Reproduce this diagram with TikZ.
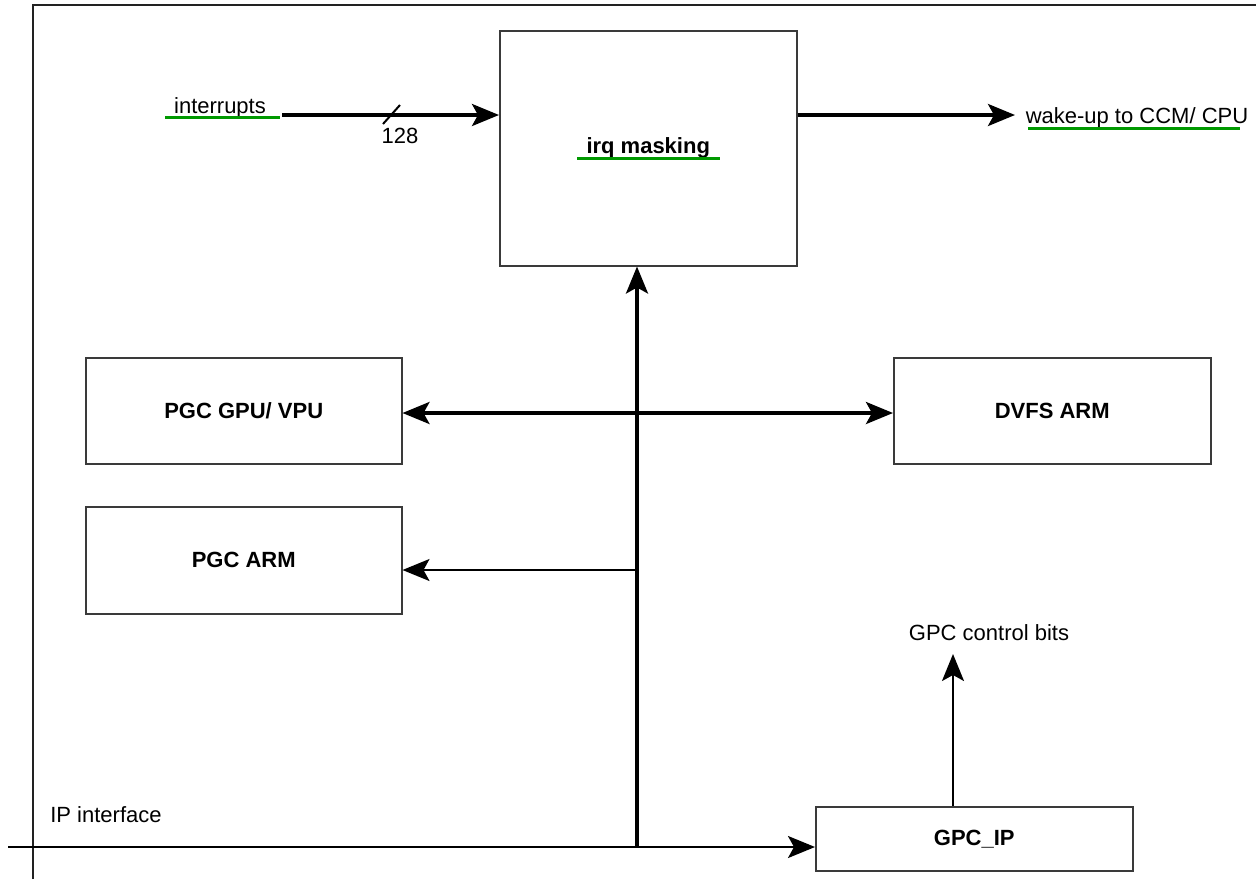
\documentclass[tikz,border=0pt]{standalone}
\usepackage{fontspec}
\setmainfont{Liberation Sans}
\usetikzlibrary{arrows.meta}
\definecolor{ulgreen}{HTML}{009900}
\definecolor{boxc}{HTML}{3A3A3A}
\definecolor{framec}{HTML}{222222}
\begin{document}
\begin{tikzpicture}[x=1pt,y=-1pt,
  font=\fontsize{22}{26}\selectfont,
  blk/.style={draw=boxc, line width=1.5pt, anchor=north west, inner sep=0pt,
              font=\fontsize{22}{26}\selectfont\bfseries},
  lbl/.style={anchor=base, inner sep=0pt},
  thk/.style={line width=3.5pt},
  thn/.style={line width=2pt},
  arr/.style={-{Stealth[length=27pt,width=22pt,inset=6pt]}},
  darr/.style={{Stealth[length=27pt,width=22pt,inset=6pt]}-{Stealth[length=27pt,width=22pt,inset=6pt]}},
  uline/.style={draw=ulgreen, line width=3pt}
]
\useasboundingbox (0,0) rectangle (1256,879);
\fill[white] (0,0) rectangle (1256,879);

% frame
\draw[framec, line width=2pt] (33,879) -- (33,5) -- (1256,5);

% boxes
\node[blk, minimum width=297pt, minimum height=235pt] (irq) at (499,30) {irq masking};
\node[blk, minimum width=316pt, minimum height=106pt] (gpu) at (85,357) {PGC GPU/ VPU};
\node[blk, minimum width=316pt, minimum height=107pt] (arm) at (85,506) {PGC ARM};
\node[blk, minimum width=317pt, minimum height=106pt] (dvfs) at (893,357) {DVFS ARM};
\node[blk, minimum width=317pt, minimum height=64pt] (gpcip) at (815,806) {GPC\_IP};

% labels
\node[lbl] (intr) at (220,113) {interrupts};
\node[lbl] (n128) at (400,143) {128};
\node[lbl] (wake) at (1137,123) {wake-up to CCM/ CPU};
\node[lbl] (gpcbits) at (989,640) {GPC control bits};
\node[lbl] (ipif) at (106,822) {IP interface};

% green underlines
\draw[uline] (165,117) -- (280,117);
\draw[uline] (577,158) -- (720,158);
\draw[uline] (1028,128) -- (1240,128);

% connectors
\coordinate (inS) at (282,115);
\draw[thk,arr] (inS) -- (inS -| irq.west);
\draw[line width=2pt] (383,124) -- (400,105);

\coordinate (wkE) at (1015,115);
\draw[thk,arr] (wkE -| irq.east) -- (wkE);

\coordinate (busB) at (637,847);
\draw[thk,arr] (busB) -- (busB |- irq.south);

\coordinate (hJ) at (637,413);
\draw[thk,darr] (hJ -| gpu.east) -- (hJ -| dvfs.west);

\coordinate (aJ) at (637,570);
\draw[thn,arr] (aJ) -- (aJ -| arm.east);

\coordinate (ipL) at (8,847);
\draw[thn,arr] (ipL) -- (ipL -| gpcip.west);

\coordinate (gbT) at (953,654);
\draw[thn,arr] (gbT |- gpcip.north) -- (gbT);
\end{tikzpicture}
\end{document}
